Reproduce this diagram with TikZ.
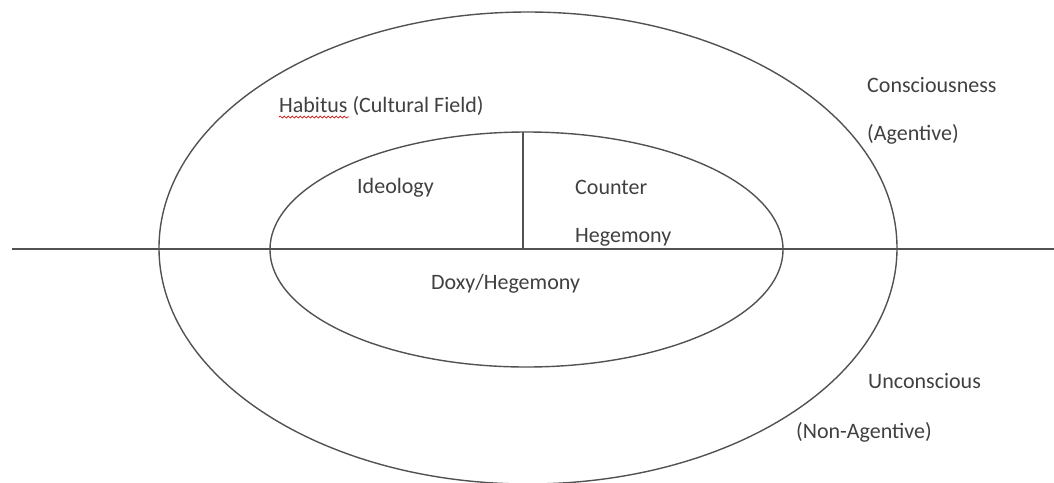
\documentclass[tikz,border=0pt]{standalone}
\usepackage{fontspec}
\setmainfont{Carlito}
\usetikzlibrary{shapes.geometric,decorations.pathmorphing}
\begin{document}
\begin{tikzpicture}[x=1pt,y=-1pt,
  ring/.style={draw=black!68, line width=1.4pt, ellipse, inner sep=0pt},
  rule/.style={draw=black!68, line width=1.4pt},
  lbl/.style={anchor=base west, inner sep=0pt, text=black!75, font=\fontsize{22}{26}\selectfont},
  squiggle/.style={draw=red!80!black, line width=0.7pt, decorate, decoration={snake, segment length=4pt, amplitude=1pt}}]
\useasboundingbox (0,0) rectangle (1054,482);
% ellipses
\node[ring, minimum width=738pt, minimum height=472pt] (outer) at (528,248) {};
\node[ring, minimum width=513pt, minimum height=235pt] (inner) at (526.5,249.5) {};
% dividing lines
\coordinate (hl) at (12,249);
\coordinate (hr) at (1054,249);
\coordinate (vt) at (523,132);
\coordinate (vb) at (523,249);
\draw[rule] (hl) -- (hr);
\draw[rule] (vt) -- (vb);
% labels
\node[lbl] (habitus) at (279,112) {Habitus (Cultural Field)};
\coordinate (sqa) at (279,117);
\coordinate (sqb) at (349,117);
\draw[squiggle] (sqa) -- (sqb);
\node[lbl] (ideology) at (357,193) {Ideology};
\node[lbl] (counter) at (575,194) {Counter};
\node[lbl] (hegemony) at (575,242) {Hegemony};
\node[lbl] (doxy) at (431,289) {Doxy/Hegemony};
\node[lbl] (conscious) at (867,92) {Consciousness};
\node[lbl] (agentive) at (867,140) {(Agentive)};
\node[lbl] (unconscious) at (868,388) {Unconscious};
\node[lbl] (nonagentive) at (796,438) {(Non-Agentive)};
\end{tikzpicture}
\end{document}
